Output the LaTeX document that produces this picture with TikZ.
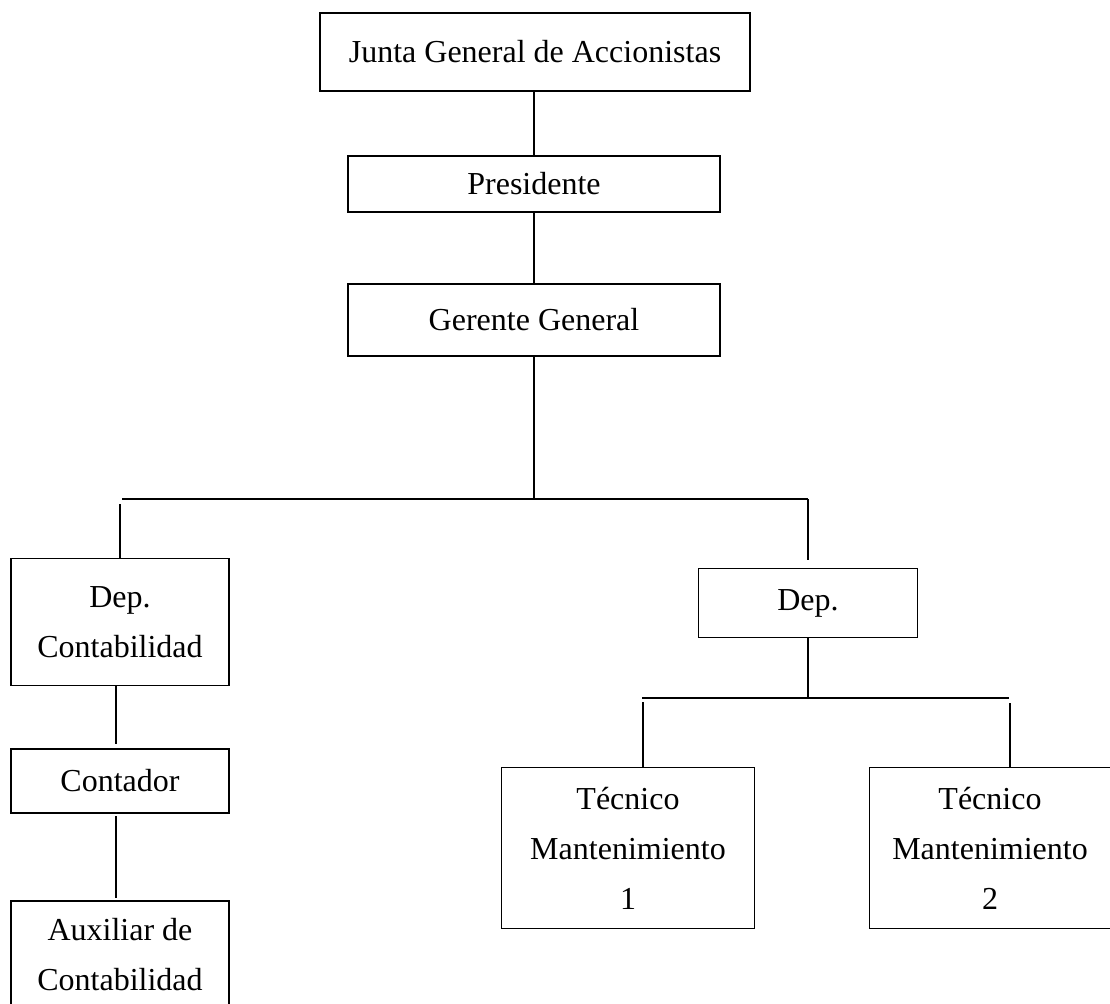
\documentclass[tikz,border=0pt]{standalone}
\usepackage{fontspec}
\setmainfont{Liberation Serif}
\begin{document}
\begin{tikzpicture}[x=0.75pt,y=-0.75pt,
  box/.style={draw, line width=1pt, inner sep=0pt, align=center,
              font=\fontsize{24}{37.5}\selectfont},
  link/.style={line width=2pt}]
\useasboundingbox (0,0) rectangle (1110,1003);

% upper chain
\node[box, minimum width=322.5pt, minimum height=58.5pt] (junta) at (535,52) {Junta General de Accionistas};
\node[box, minimum width=279pt, minimum height=42pt] (pres) at (534,184) {Presidente};
\node[box, minimum width=279pt, minimum height=54pt] (ger) at (534,320) {Gerente General};

% accounting branch
\node[box, minimum width=163.5pt, minimum height=95pt] (depc) at (120,622) {Dep.\\Contabilidad};
\node[box, minimum width=163.5pt, minimum height=48pt] (cont) at (120,781) {Contador};
\node[box, minimum width=163.5pt, minimum height=81pt] (aux) at (120,955) {Auxiliar de\\Contabilidad};

% maintenance branch
\node[box, minimum width=164pt, minimum height=52pt] (dep) at (808,603) {Dep.};
\node[box, minimum width=190pt, minimum height=121pt] (tec1) at (628,848) {Técnico\\Mantenimiento\\1};
\node[box, minimum width=181pt, minimum height=121pt] (tec2) at (990,848) {Técnico\\Mantenimiento\\2};

% bus points
\coordinate (busL) at (122,499);
\coordinate (busR) at (808,499);
\coordinate (rdrop) at (808,560);
\coordinate (ldrop) at (120,504);
\coordinate (bus2L) at (642,698);
\coordinate (bus2R) at (1009,698);
\coordinate (t1top) at (643,702);
\coordinate (t2top) at (1010,703);
\coordinate (c1a) at (116,686);
\coordinate (c1b) at (116,744);
\coordinate (c2a) at (116,816);
\coordinate (c2b) at (116,898);

% connectors
\draw[link] (pres.north) -- (pres.north |- junta.south);
\draw[link] (ger.north) -- (ger.north |- pres.south);
\draw[link] (ger.south) -- (ger.south |- busL);
\draw[link] (busL) -- (busR);
\draw[link] (ldrop) -- (depc.north);
\draw[link] (busR) -- (rdrop);
\draw[link] (c1a) -- (c1b);
\draw[link] (c2a) -- (c2b);
\draw[link] (dep.south) -- (dep.south |- bus2L);
\draw[link] (bus2L) -- (bus2R);
\draw[link] (t1top) -- (t1top |- tec1.north);
\draw[link] (t2top) -- (t2top |- tec2.north);
\end{tikzpicture}
\end{document}
